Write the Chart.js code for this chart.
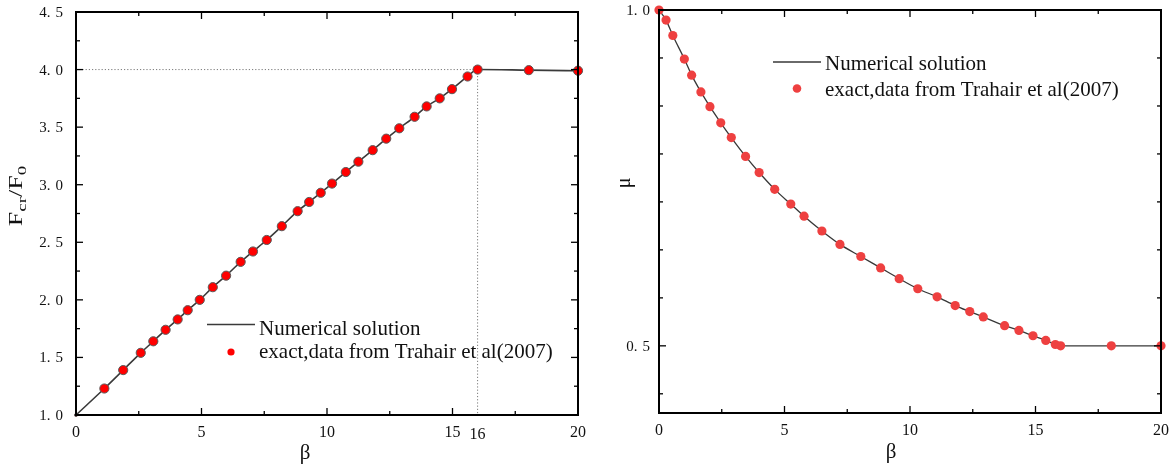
<!DOCTYPE html>
<html>
<head>
<meta charset="utf-8">
<script src="https://cdn.jsdelivr.net/npm/chart.js@4.4.1/dist/chart.umd.min.js"></script>
<style>
  html, body { margin: 0; padding: 0; background: #fff; }
  #wrap { position: relative; width: 1175px; height: 470px; }
  #chart1 { position: absolute; left: 0; top: 0; }
  #chart2 { position: absolute; left: 590px; top: 0; }
</style>
</head>
<body>
<div id="wrap">
  <canvas id="chart1" width="590" height="470"></canvas>
  <canvas id="chart2" width="585" height="470"></canvas>
</div>
<script>
// left panel: Fcr/F0 against beta
var betaLeft = [0, 1.13, 1.88, 2.58, 3.08, 3.57, 4.05, 4.45, 4.93, 5.45, 5.98, 6.56, 7.05, 7.6,
  8.2, 8.83, 9.29, 9.75, 10.2, 10.75, 11.25, 11.82, 12.36, 12.88, 13.49, 13.97, 14.49, 14.98,
  15.6, 16, 18.04, 20];
var ratioLeft = [1.0, 1.23, 1.39, 1.54, 1.64, 1.74, 1.83, 1.91, 2.0, 2.11, 2.21, 2.33, 2.42, 2.52,
  2.64, 2.77, 2.85, 2.93, 3.01, 3.11, 3.2, 3.3, 3.4, 3.49, 3.59, 3.68, 3.75, 3.83,
  3.94, 4.0, 3.995, 3.99];
var leftXMajor = [0, 5, 10, 15, 20];
var leftXMinor = [2.5, 7.5, 12.5, 17.5];
var leftXLabels = ["0", "5", "10", "15", "16", "20"];
var leftXLabelAt = [0, 5, 10, 15, 16, 20];
var leftYMajor = [1.0, 1.5, 2.0, 2.5, 3.0, 3.5, 4.0, 4.5];
var leftYMinor = [1.25, 1.75, 2.25, 2.75, 3.25, 3.75, 4.25];
var leftYLabels = ["1.0", "1.5", "2.0", "2.5", "3.0", "3.5", "4.0", "4.5"];
var guideBeta = 16, guideRatio = 4.0;

// right panel: mu against beta
var betaRight = [0, 0.28, 0.55, 1.01, 1.30, 1.67, 2.03, 2.46, 2.88, 3.45, 3.99, 4.61, 5.25, 5.78,
  6.49, 7.21, 8.04, 8.83, 9.57, 10.31, 11.08, 11.80, 12.38, 12.92, 13.77, 14.34, 14.90, 15.41,
  15.79, 16.0, 18.02, 20];
var muRight = [1.0, 0.985, 0.962, 0.927, 0.903, 0.878, 0.856, 0.832, 0.810, 0.782, 0.758, 0.733,
  0.711, 0.693, 0.671, 0.651, 0.633, 0.616, 0.600, 0.585, 0.573, 0.560, 0.551, 0.543, 0.530,
  0.523, 0.515, 0.508, 0.502, 0.5, 0.5, 0.5];
var rightXMajor = [0, 5, 10, 15, 20];
var rightXMinor = [2.5, 7.5, 12.5, 17.5];
var rightXLabels = ["0", "5", "10", "15", "20"];
var rightXLabelAt = [0, 5, 10, 15, 20];
var rightYMajor = [0.5, 1.0];
var rightYMinor = [0.9286, 0.8571, 0.7857, 0.7143, 0.6429, 0.5714, 0.4286];
var rightYLabels = ["0.5", "1.0"];

var legendNames = ["Numerical solution", "exact,data from Trahair et al(2007)"];

function pts(xs, ys) {
  var out = [];
  for (var i = 0; i < xs.length; i++) out.push({x: xs[i], y: ys[i]});
  return out;
}

function seg(ctx, x1, y1, x2, y2) {
  ctx.beginPath();
  ctx.moveTo(x1, y1);
  ctx.lineTo(x2, y2);
  ctx.stroke();
}

// frame, inward ticks, tick labels, titles, legend
var framePlugin = {
  id: "frame",
  beforeDatasetsDraw: function(chart) {
    var c = chart.options.plugins.frame;
    if (!c.guide) return;
    var ctx = chart.ctx, a = chart.chartArea;
    var gx = chart.scales.x.getPixelForValue(c.guide[0]);
    var gy = chart.scales.y.getPixelForValue(c.guide[1]);
    ctx.save();
    ctx.strokeStyle = "#7a7a7a";
    ctx.lineWidth = 1;
    ctx.setLineDash([1.2, 2]);
    seg(ctx, a.left, gy, gx, gy);
    seg(ctx, gx, gy, gx, a.bottom);
    ctx.restore();
  },
  afterDraw: function(chart) {
    var c = chart.options.plugins.frame;
    var ctx = chart.ctx, a = chart.chartArea;
    var xs = chart.scales.x, ys = chart.scales.y;
    ctx.save();
    ctx.strokeStyle = "#000";
    ctx.lineWidth = 1.3;
    c.xMajor.forEach(function(v) {
      var p = xs.getPixelForValue(v);
      seg(ctx, p, a.bottom, p, a.bottom - 7);
      seg(ctx, p, a.top, p, a.top + 7);
    });
    c.xMinor.forEach(function(v) {
      var p = xs.getPixelForValue(v);
      seg(ctx, p, a.bottom, p, a.bottom - 4);
      seg(ctx, p, a.top, p, a.top + 4);
    });
    c.yMajor.forEach(function(v) {
      var p = ys.getPixelForValue(v);
      seg(ctx, a.left, p, a.left + 7, p);
      seg(ctx, a.right, p, a.right - 7, p);
    });
    c.yMinor.forEach(function(v) {
      var p = ys.getPixelForValue(v);
      seg(ctx, a.left, p, a.left + 4, p);
      seg(ctx, a.right, p, a.right - 4, p);
    });
    ctx.lineWidth = 2;
    ctx.strokeRect(a.left, a.top, a.right - a.left, a.bottom - a.top);

    ctx.fillStyle = "#111";
    ctx.font = "16px 'Liberation Serif'";
    ctx.textAlign = "center";
    ctx.textBaseline = "middle";
    c.xLabels.forEach(function(t, i) {
      var v = c.xLabelAt[i];
      ctx.fillText(t, xs.getPixelForValue(v), a.bottom + 18 + (v === 16 ? 1.5 : 0));
    });
    ctx.font = "15px 'Liberation Serif'";
    ctx.textAlign = "right";
    c.yLabels.forEach(function(t) {
      // draw "4." and "5" apart, like the wide spacing of the source
      var py = ys.getPixelForValue(parseFloat(t)) + 1;
      var right = a.left - c.yLabelGap;
      var last = t.slice(-1), head = t.slice(0, -1);
      ctx.fillText(last, right, py);
      ctx.fillText(head, right - ctx.measureText(last).width - 5, py);
    });

    // x title
    ctx.font = "21px 'Liberation Serif'";
    ctx.textAlign = "center";
    ctx.fillText("\u03b2", c.xTitle[0], c.xTitle[1]);

    // y title, rotated
    ctx.save();
    ctx.translate(c.yTitle[0], c.yTitle[1]);
    ctx.rotate(-Math.PI / 2);
    ctx.textBaseline = "alphabetic";
    if (c.yTitleSub) {
      ctx.scale(1.45, 1);
      var parts = [["F", 18, 0], ["cr", 13, 4], ["/F", 18, 0], ["0", 13, 4]];
      var w = 0;
      parts.forEach(function(p) { ctx.font = p[1] + "px 'Liberation Serif'"; w += ctx.measureText(p[0]).width; });
      var x = -w / 2;
      ctx.textAlign = "left";
      parts.forEach(function(p) {
        ctx.font = p[1] + "px 'Liberation Serif'";
        ctx.fillText(p[0], x, p[2]);
        x += ctx.measureText(p[0]).width;
      });
    } else {
      ctx.font = "20px 'Liberation Serif'";
      ctx.textAlign = "center";
      ctx.fillText(c.yTitleText, 0, 0);
    }
    ctx.restore();

    // legend
    var L = c.legend;
    ctx.strokeStyle = L.lineColor;
    ctx.lineWidth = 1.3;
    seg(ctx, L.x, L.lineY, L.x + 48, L.lineY);
    ctx.fillStyle = L.dotColor;
    ctx.beginPath();
    ctx.arc(L.x + 24, L.dotY, L.dotR, 0, Math.PI * 2);
    ctx.fill();
    ctx.fillStyle = "#111";
    ctx.font = "21px 'Liberation Serif'";
    ctx.textAlign = "left";
    ctx.textBaseline = "alphabetic";
    ctx.fillText(legendNames[0], L.x + 52, L.base1);
    ctx.fillText(legendNames[1], L.x + 52, L.base2);
    ctx.restore();
  }
};
Chart.register(framePlugin);

function makeChart(id, cfg) {
  return new Chart(document.getElementById(id), {
    type: "scatter",
    data: {
      datasets: [
        {
          label: legendNames[1],
          data: pts(cfg.xs, cfg.ys),
          showLine: false,
          pointRadius: cfg.radius,
          pointBackgroundColor: cfg.dotColor,
          pointBorderColor: cfg.dotBorder,
          pointBorderWidth: cfg.dotBorderWidth
        },
        {
          label: legendNames[0],
          data: pts(cfg.xs, cfg.ys),
          showLine: true,
          borderColor: cfg.lineColor,
          borderWidth: cfg.lineWidth,
          cubicInterpolationMode: "monotone",
          pointRadius: 0
        }
      ]
    },
    options: {
      responsive: false,
      animation: false,
      devicePixelRatio: 1,
      clip: false,
      layout: { padding: cfg.padding },
      scales: {
        x: { type: "linear", min: 0, max: 20, display: false },
        y: { type: "linear", min: cfg.yMin, max: cfg.yMax, display: false }
      },
      plugins: {
        legend: { display: false },
        tooltip: { enabled: false },
        frame: cfg.frame
      }
    }
  });
}

makeChart("chart1", {
  xs: betaLeft, ys: ratioLeft, yMin: 1.0, yMax: 4.5,
  radius: function(c) { return c.dataIndex === 0 ? 1.5 : 4.6; },
  dotColor: "#ff0000", dotBorder: "#5a5a5a", dotBorderWidth: 1,
  lineColor: "#3a3a3a", lineWidth: 1.6,
  padding: { left: 76, top: 12, right: 12, bottom: 55 },
  frame: {
    xMajor: leftXMajor, xMinor: leftXMinor, xLabels: leftXLabels, xLabelAt: leftXLabelAt,
    yMajor: leftYMajor, yMinor: leftYMinor, yLabels: leftYLabels, yLabelGap: 13,
    guide: [guideBeta, guideRatio],
    xTitle: [305, 453], yTitle: [22, 196], yTitleSub: true,
    legend: { x: 207, lineY: 324.5, dotY: 352, dotR: 3.6, lineColor: "#3a3a3a", dotColor: "#ff0000",
      base1: 335, base2: 358 }
  }
});

makeChart("chart2", {
  xs: betaRight, ys: muRight, yMin: 0.4, yMax: 1.0,
  radius: 4.6,
  dotColor: "#ee4040", dotBorder: "#ee4040", dotBorderWidth: 0,
  lineColor: "#383838", lineWidth: 1.3,
  padding: { left: 69, top: 10, right: 14, bottom: 57 },
  frame: {
    xMajor: rightXMajor, xMinor: rightXMinor, xLabels: rightXLabels, xLabelAt: rightXLabelAt,
    yMajor: rightYMajor, yMinor: rightYMinor, yLabels: rightYLabels, yLabelGap: 9,
    guide: null,
    xTitle: [301, 452], yTitle: [40, 183], yTitleSub: false, yTitleText: "\u03bc",
    legend: { x: 183, lineY: 62, dotY: 88.5, dotR: 4.3, lineColor: "#383838", dotColor: "#ee4040",
      base1: 70, base2: 96 }
  }
});
</script>
</body>
</html>
